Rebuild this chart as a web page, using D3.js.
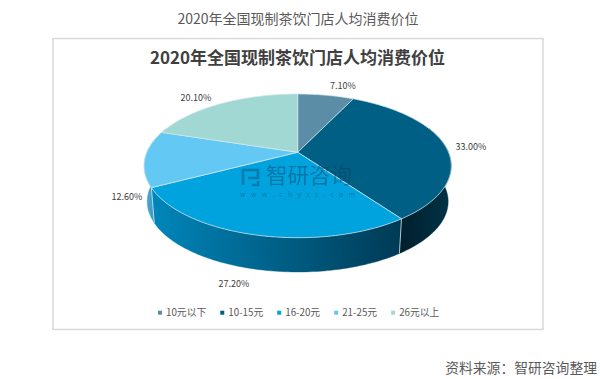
<!DOCTYPE html>
<html>
<head>
<meta charset="utf-8">
<script src="https://cdn.jsdelivr.net/npm/d3@7"></script>
<style>
    html, body { margin: 0; padding: 0; background: #fff; }
    svg { display: block; }
    text { font-family: "Noto Sans CJK SC", "Open Sans", sans-serif; }
</style>
</head>
<body>
<div id="chart"></div>
<script>
// data
const categories = ["10元以下", "10-15元", "16-20元", "21-25元", "26元以上"];
const shares = [7.1, 33.0, 27.2, 12.6, 20.1];
const shareLabels = ["7.10%", "33.00%", "27.20%", "12.60%", "20.10%"];
const colors = ["#5b8ea6", "#005f84", "#00a3de", "#63c9f4", "#a1d8d3"];
const sideColors = [
    ["#3d7187", "#3d7187"],
    ["#001f2d", "#013346"],
    ["#0086ba", "#003a55"],
    ["#4aa6cf", "#2f8fb8"],
    ["#7fb5b0", "#7fb5b0"]
];
// label centres, excel places these by hand so they don't follow a formula
const labelPos = [[343, 86], [471, 147], [234, 284], [127, 197], [196, 98]];

const chartTitle = "2020年全国现制茶饮门店人均消费价位";
const sourceText = "资料来源：智研咨询整理";

let width = 600, height = 379;

let svg = d3.select("#chart").append("svg")
    .attr("width", width)
    .attr("height", height);

// page title and frame
svg.append("text")
    .attr("x", 298).attr("y", 24)
    .attr("text-anchor", "middle")
    .attr("font-size", 14)
    .attr("fill", "#595959")
    .text(chartTitle);

svg.append("rect")
    .attr("x", 53).attr("y", 38.5)
    .attr("width", 490).attr("height", 291)
    .attr("fill", "#fff")
    .attr("stroke", "#d9d9d9")
    .attr("stroke-width", 1.5);

svg.append("text")
    .attr("x", 297.5).attr("y", 64)
    .attr("text-anchor", "middle")
    .attr("font-size", 17)
    .attr("font-weight", 700)
    .attr("fill", "#404040")
    .text(chartTitle);

// perspective of the tilted disc, fitted on the outline of the pie
const cx = 297.7, cy = 152.3;
const k = 0.1886, sx = 150.8, sy = 69.3;
const depth = 36, bottomScale = 0.98;

// angle is clockwise from 12 o'clock, t = 0 top face, 1 bottom face
function project(angle, r, t) {
    let X = Math.sin(angle) * r;
    let Y = -Math.cos(angle) * r;
    let w = 1 - k * Y;
    let f = t ? bottomScale : 1;
    return [cx + f * sx * X / w, cy + (t ? depth : 0) + f * sy * Y / w];
}

let pie = d3.pie().sort(null).value(d => d);
let slices = pie(shares);
let line = d3.line();

function arcPoints(a0, a1, t) {
    let n = Math.max(2, Math.ceil(Math.abs(a1 - a0) / 0.02));
    return d3.range(n + 1).map(i => project(a0 + (a1 - a0) * i / n, 1, t));
}

let defs = svg.append("defs");
sideColors.forEach((c, i) => {
    let grad = defs.append("linearGradient")
        .attr("id", "side" + i)
        .attr("x1", "0%").attr("x2", "100%")
        .attr("y1", "0%").attr("y2", "0%");
    grad.append("stop").attr("offset", "0%").attr("stop-color", c[0]);
    grad.append("stop").attr("offset", "100%").attr("stop-color", c[1]);
});

// sides first, the top face covers whatever is behind it
const sideFrom = Math.PI * 0.38, sideTo = Math.PI * 1.62;
let sides = slices.map((d, i) => ({
    i: i,
    a0: Math.max(d.startAngle, sideFrom),
    a1: Math.min(d.endAngle, sideTo)
})).filter(d => d.a1 > d.a0);

svg.append("g").selectAll("path")
    .data(sides)
    .enter().append("path")
    .attr("d", d => line(arcPoints(d.a0, d.a1, 0).concat(arcPoints(d.a1, d.a0, 1))) + "Z")
    .attr("fill", d => `url(#side${d.i})`)
    .attr("stroke", d => `url(#side${d.i})`)
    .attr("stroke-width", 0.4);

// light seams on the side
svg.append("g").selectAll("line")
    .data(slices.slice(1, 3))
    .enter().append("line")
    .attr("x1", d => project(d.endAngle, 1, 0)[0])
    .attr("y1", d => project(d.endAngle, 1, 0)[1])
    .attr("x2", d => project(d.endAngle, 1, 1)[0])
    .attr("y2", d => project(d.endAngle, 1, 1)[1])
    .attr("stroke", "#cfe3ea")
    .attr("stroke-width", 0.8);

// top face
svg.append("g").selectAll("path")
    .data(slices)
    .enter().append("path")
    .attr("d", d => line([project(0, 0, 0)].concat(arcPoints(d.startAngle, d.endAngle, 0))) + "Z")
    .attr("fill", (d, i) => colors[i])
    .attr("stroke", "#d5e8ec")
    .attr("stroke-width", 0.7)
    .attr("stroke-linejoin", "round");

// value labels
svg.append("g").selectAll("text")
    .data(shareLabels)
    .enter().append("text")
    .attr("x", (d, i) => labelPos[i][0])
    .attr("y", (d, i) => labelPos[i][1] + 3)
    .attr("text-anchor", "middle")
    .attr("font-family", "'Open Sans', sans-serif")
    .attr("font-size", 9)
    .attr("fill", "#404040")
    .text(d => d);

// watermark
let mark = svg.append("g").attr("fill", "#0a3f63").attr("fill-opacity", 0.45);
mark.append("text")
    .attr("x", 266).attr("y", 183)
    .attr("font-size", 21.5)
    .text("智研咨询");
mark.append("text")
    .attr("x", 240).attr("y", 197)
    .attr("font-family", "'Open Sans', sans-serif")
    .attr("font-size", 7)
    .attr("letter-spacing", 5.2)
    .text("www.chyxx.com");
mark.append("path")
    .attr("fill", "none")
    .attr("stroke", "#0a3f63")
    .attr("stroke-opacity", 0.4)
    .attr("stroke-width", 2.6)
    .attr("d", "M243 185V170H258V178H248M252 185H258V181");

// legend, walks along the row using the real text widths
let legend = svg.append("g");
let legendX = 158;
categories.forEach((c, i) => {
    legend.append("rect")
        .attr("x", legendX).attr("y", 310.7)
        .attr("width", 4).attr("height", 4)
        .attr("fill", colors[i]);
    let label = legend.append("text")
        .attr("x", legendX + 8).attr("y", 316)
        .attr("font-size", 9.8)
        .attr("fill", "#595959")
        .text(c);
    legendX += 8 + label.node().getComputedTextLength() + 14;
});

// source
svg.append("text")
    .attr("x", 597).attr("y", 372.5)
    .attr("text-anchor", "end")
    .attr("font-size", 13.8)
    .attr("fill", "#595959")
    .text(sourceText);
</script>
</body>
</html>
